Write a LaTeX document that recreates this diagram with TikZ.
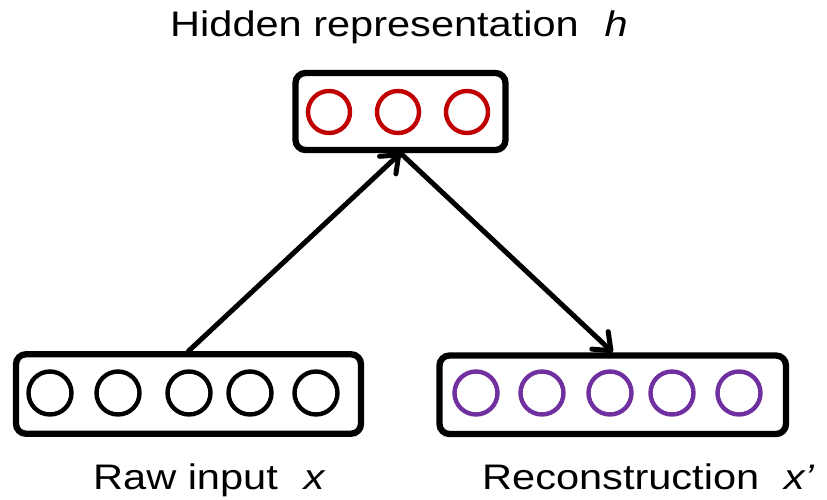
\documentclass[tikz,border=0pt]{standalone}
\usepackage{fontspec}
\setmainfont{Liberation Sans}
\usetikzlibrary{arrows.meta}
\definecolor{hidred}{HTML}{C00000}
\definecolor{recpurple}{HTML}{7030A0}
\newcommand{\widetext}[1]{\scalebox{1.17}[1]{#1}}
\tikzset{
  layer/.style={draw=black, line width=6.3pt, rounded corners=10pt, inner sep=0pt},
  unit/.style={circle, draw, line width=4.4pt, minimum size=42pt, inner sep=0pt},
  flow/.style={line width=5pt, line cap=round,
    -{Straight Barb[length=15pt,width=24pt,line cap=round,line join=round]}},
  caption/.style={anchor=base west, inner sep=0pt, font=\fontsize{35.5}{40}\selectfont}
}
\begin{document}
\begin{tikzpicture}[x=1pt, y=-1pt]
  \useasboundingbox (0,0) rectangle (827,500);
  % layer frames
  \node[layer, minimum width=210pt, minimum height=77pt] (hid) at (400.5,111.5) {};
  \node[layer, minimum width=345pt, minimum height=79.5pt] (inp) at (188.5,394) {};
  \node[layer, minimum width=346.5pt, minimum height=78.5pt] (rec) at (612.75,394.75) {};
  % hidden units
  \foreach \i/\x in {1/329, 2/398, 3/467}
    \node[unit, draw=hidred] (h\i) at (\x,112) {};
  % input units
  \foreach \i/\x in {1/50, 2/118, 3/189, 4/250, 5/316}
    \node[unit, minimum size=43pt, draw=black] (x\i) at (\x,393) {};
  % reconstruction units
  \foreach \i/\x in {1/476, 2/542, 3/610, 4/672, 5/739}
    \node[unit, minimum size=43pt, draw=recpurple] (r\i) at (\x,393) {};
  % encoder and decoder
  \draw[flow] (inp.north) -- (hid.south);
  \draw[flow] (hid.south) -- (rec.north);
  % captions
  \node[caption] (th) at (170,37) {\widetext{Hidden representation\hspace{22pt}\textit{h}}};
  \node[caption] (tx) at (93,489) {\widetext{Raw input\hspace{22pt}\textit{x}}};
  \node[caption] (tr) at (482,489) {\widetext{Reconstruction\hspace{21pt}\textit{x’}}};
\end{tikzpicture}
\end{document}
